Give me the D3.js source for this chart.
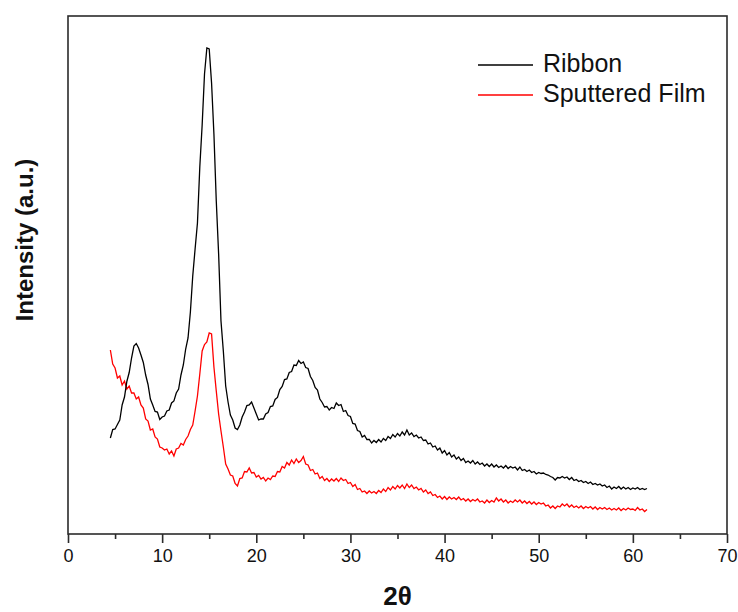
<!DOCTYPE html>
<html>
<head>
<meta charset="utf-8">
<title>XRD Ribbon / Sputtered Film</title>
<script src="https://cdn.jsdelivr.net/npm/d3@7/dist/d3.min.js"></script>
<style>
  body { margin: 0; background: #fff; }
  svg text { font-family: Arial, "Liberation Sans", sans-serif; fill: #111; }
</style>
</head>
<body>
<div id="container"></div>

<script>

// 2 theta (degrees), one value every 0.25°
const twoTheta = [
  4.5, 4.75,
  5, 5.25, 5.5, 5.75, 6, 6.25, 6.5, 6.75,
  7, 7.25, 7.5, 7.75, 8, 8.25, 8.5, 8.75,
  9, 9.25, 9.5, 9.75, 10, 10.25, 10.5, 10.75,
  11, 11.25, 11.5, 11.75, 12, 12.25, 12.5, 12.75,
  13, 13.25, 13.5, 13.75, 14, 14.25, 14.5, 14.75,
  15, 15.25, 15.5, 15.75, 16, 16.25, 16.5, 16.75,
  17, 17.25, 17.5, 17.75, 18, 18.25, 18.5, 18.75,
  19, 19.25, 19.5, 19.75, 20, 20.25, 20.5, 20.75,
  21, 21.25, 21.5, 21.75, 22, 22.25, 22.5, 22.75,
  23, 23.25, 23.5, 23.75, 24, 24.25, 24.5, 24.75,
  25, 25.25, 25.5, 25.75, 26, 26.25, 26.5, 26.75,
  27, 27.25, 27.5, 27.75, 28, 28.25, 28.5, 28.75,
  29, 29.25, 29.5, 29.75, 30, 30.25, 30.5, 30.75,
  31, 31.25, 31.5, 31.75, 32, 32.25, 32.5, 32.75,
  33, 33.25, 33.5, 33.75, 34, 34.25, 34.5, 34.75,
  35, 35.25, 35.5, 35.75, 36, 36.25, 36.5, 36.75,
  37, 37.25, 37.5, 37.75, 38, 38.25, 38.5, 38.75,
  39, 39.25, 39.5, 39.75, 40, 40.25, 40.5, 40.75,
  41, 41.25, 41.5, 41.75, 42, 42.25, 42.5, 42.75,
  43, 43.25, 43.5, 43.75, 44, 44.25, 44.5, 44.75,
  45, 45.25, 45.5, 45.75, 46, 46.25, 46.5, 46.75,
  47, 47.25, 47.5, 47.75, 48, 48.25, 48.5, 48.75,
  49, 49.25, 49.5, 49.75, 50, 50.25, 50.5, 50.75,
  51, 51.25, 51.5, 51.75, 52, 52.25, 52.5, 52.75,
  53, 53.25, 53.5, 53.75, 54, 54.25, 54.5, 54.75,
  55, 55.25, 55.5, 55.75, 56, 56.25, 56.5, 56.75,
  57, 57.25, 57.5, 57.75, 58, 58.25, 58.5, 58.75,
  59, 59.25, 59.5, 59.75, 60, 60.25, 60.5, 60.75,
  61, 61.25, 61.5
];

// Intensité (u.a.) - Ribbon
const ribbon = [
  960, 1045,
  1050, 1095, 1140, 1290, 1370, 1525, 1615, 1760,
  1880, 1905, 1860, 1790, 1715, 1590, 1495, 1350,
  1290, 1225, 1220, 1145, 1170, 1180, 1230, 1240,
  1310, 1330, 1410, 1450, 1590, 1690, 1850, 1960,
  2220, 2580, 2850, 3110, 3670, 4090, 4600, 4860,
  4850, 4510, 4000, 3330, 2800, 2130, 1830, 1480,
  1320, 1190, 1140, 1060, 1045, 1090, 1170, 1220,
  1285, 1290, 1320, 1260, 1200, 1140, 1150, 1150,
  1200, 1215, 1275, 1280, 1345, 1365, 1445, 1475,
  1545, 1550, 1615, 1625, 1690, 1685, 1735, 1705,
  1720, 1665, 1655, 1575, 1535, 1465, 1440, 1350,
  1315, 1270, 1275, 1240, 1265, 1255, 1310, 1285,
  1295, 1225, 1235, 1185, 1175, 1105, 1100, 1035,
  1025, 970, 985, 945, 945, 910, 935, 915,
  945, 920, 955, 935, 975, 955, 995, 970,
  1005, 980, 1020, 990, 1040, 990, 1010, 975,
  990, 960, 970, 935, 940, 900, 910, 870,
  880, 840, 860, 810, 835, 790, 815, 770,
  790, 750, 770, 735, 755, 715, 730, 710,
  735, 700, 720, 695, 710, 680, 700, 675,
  700, 670, 690, 665, 680, 660, 685, 655,
  675, 660, 670, 640, 670, 635, 645, 625,
  640, 615, 625, 600, 615, 605, 610, 595,
  590, 575, 565, 540, 565, 560, 575, 560,
  570, 545, 565, 535, 545, 525, 535, 515,
  525, 505, 520, 495, 505, 490, 500, 480,
  490, 465, 480, 450, 470, 455, 475, 450,
  470, 450, 465, 445, 460, 450, 465, 445,
  455, 445, 455
];

// Intensité (u.a.) - Sputtered Film
const sputtered = [
  1840, 1700,
  1660, 1560, 1580, 1490, 1530, 1450, 1480, 1410,
  1410, 1350, 1370, 1290, 1260, 1150, 1130, 1040,
  1050, 970, 950, 870, 860, 840, 850, 800,
  830, 780, 850, 860, 905, 890, 945, 980,
  1045, 1090, 1230, 1380, 1600, 1830, 1895, 1920,
  2010, 2000, 1670, 1430, 1200, 1030, 870, 700,
  650, 590, 580, 505, 480, 555, 560, 625,
  620, 660, 610, 615, 570, 585, 550, 565,
  530, 560, 545, 580, 575, 625, 620, 675,
  660, 715, 690, 740, 705, 750, 715, 735,
  775, 700, 690, 635, 645, 600, 610, 555,
  575, 535, 555, 525, 550, 530, 555, 525,
  560, 535, 545, 505, 515, 475, 495, 445,
  455, 420, 430, 405, 430, 410, 425, 405,
  435, 415, 450, 425, 465, 440, 475, 450,
  485, 460, 490, 455, 500, 465, 490, 455,
  470, 440, 455, 420, 440, 405, 420, 385,
  395, 365, 380, 350, 375, 345, 370, 350,
  365, 345, 370, 340, 355, 330, 350, 325,
  345, 330, 350, 320, 330, 310, 340, 315,
  335, 320, 360, 330, 350, 320, 340, 310,
  330, 315, 340, 320, 340, 310, 330, 305,
  325, 300, 320, 295, 315, 300, 310, 280,
  290, 260, 280, 255, 280, 270, 300, 280,
  300, 270, 290, 265, 280, 260, 280, 255,
  275, 260, 275, 250, 270, 245, 265, 250,
  265, 245, 260, 240, 255, 240, 260, 235,
  255, 240, 260, 245, 250, 235, 265, 240,
  250, 225, 245
];

const seriesNames = ["Ribbon", "Sputtered Film"];
const seriesColors = ["#000000", "#ff0000"];
const majorTicks = [0, 10, 20, 30, 40, 50, 60, 70];
const minorTicks = [5, 15, 25, 35, 45, 55, 65];

// Dimensions et marges
const marginTop = 16;
const marginRight = 11;
const marginBottom = 78;
const marginLeft = 68;
const width = 738 - marginLeft - marginRight;
const height = 612 - marginTop - marginBottom;

const svg = d3.select("#container")
  .append("svg")
  .attr("width", 738)
  .attr("height", 612)
  .append("g")
  .attr("transform", `translate(${marginLeft},${marginTop})`);

// Échelles
const x = d3.scaleLinear().domain([0, 70]).range([0, width]);
const y = d3.scaleLinear().domain([0, 5180]).range([height, 0]);

const series = [ribbon, sputtered].map((vals, i) => ({
  name: seriesNames[i],
  color: seriesColors[i],
  points: vals.map((v, j) => [twoTheta[j], v])
}));

const line = d3.line()
  .x(d => x(d[0]))
  .y(d => y(d[1]));

// Courbes (le film d'abord, le ruban par-dessus)
svg.selectAll(".curve")
  .data(series.slice().reverse())
  .enter().append("path")
  .attr("class", "curve")
  .attr("fill", "none")
  .attr("stroke", d => d.color)
  .attr("stroke-width", 1.3)
  .attr("stroke-linejoin", "miter")
  .attr("d", d => line(d.points));

// Cadre
svg.append("rect")
  .attr("width", width)
  .attr("height", height)
  .attr("fill", "none")
  .attr("stroke", "#2b2b2b")
  .attr("stroke-width", 1.6);

// Axe X : graduations principales + secondaires
const xAxis = svg.append("g")
  .attr("transform", `translate(0,${height})`)
  .call(d3.axisBottom(x).tickValues(majorTicks).tickSize(9).tickPadding(6).tickFormat(d3.format("d")));
xAxis.select(".domain").remove();
xAxis.selectAll("line").attr("stroke", "#2b2b2b").attr("stroke-width", 1.6);
xAxis.selectAll("text").style("font-size", "18px").attr("fill", "#222");

const xMinor = svg.append("g")
  .attr("transform", `translate(0,${height})`)
  .call(d3.axisBottom(x).tickValues(minorTicks).tickSize(5).tickFormat(""));
xMinor.select(".domain").remove();
xMinor.selectAll("line").attr("stroke", "#2b2b2b").attr("stroke-width", 1.6);

// Titres des axes
svg.append("text")
  .attr("x", width / 2)
  .attr("y", 605 - marginTop)
  .attr("text-anchor", "middle")
  .style("font-size", "26px")
  .style("font-weight", "bold")
  .text("2θ");

svg.append("text")
  .attr("transform", `translate(${33 - marginLeft},${240 - marginTop}) rotate(-90)`)
  .attr("text-anchor", "middle")
  .style("font-size", "24px")
  .style("font-weight", "bold")
  .text("Intensity (a.u.)");

// Légende
const legend = svg.append("g")
  .attr("transform", `translate(${478 - marginLeft},${65 - marginTop})`);

series.forEach((s, i) => {
  const g = legend.append("g").attr("transform", `translate(0,${i * 30})`);
  g.append("line")
    .attr("x1", 0).attr("x2", 55)
    .attr("stroke", s.color)
    .attr("stroke-width", 1.3);
  g.append("text")
    .attr("x", 65)
    .attr("y", 7)
    .style("font-size", "25px")
    .text(s.name);
});

</script>
</body>
</html>
